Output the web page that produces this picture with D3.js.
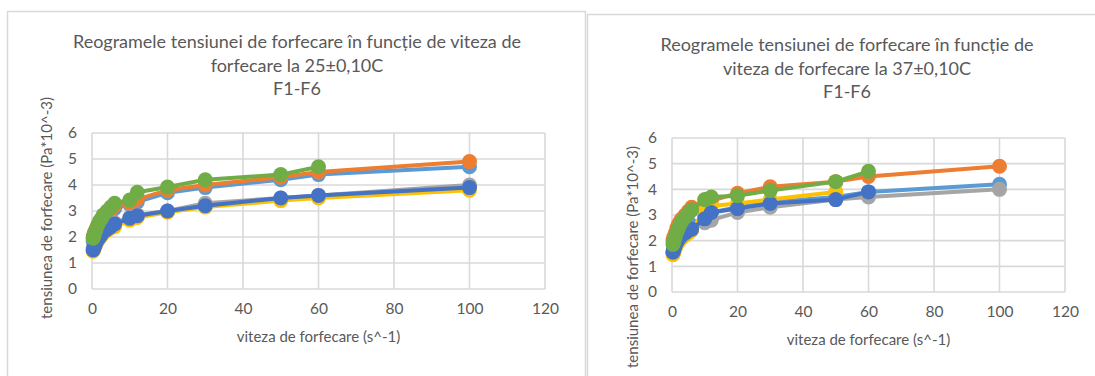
<!DOCTYPE html>
<html>
<head>
<meta charset="utf-8">
<script src="https://cdn.jsdelivr.net/npm/d3@7"></script>
<style>
  html, body { margin: 0; padding: 0; background: #fff; }
  svg { display: block; font-family: Lato, "Liberation Sans", sans-serif; }
</style>
</head>
<body>
<div id="chart"></div>
<script>
// shear rates (s^-1) shared by every series
const shearRate = [0.3, 0.5, 0.6, 1, 1.5, 2, 2.5, 3, 4, 5, 6, 10, 12, 20, 30, 50, 60, 100];
const seriesNames = ['F1', 'F2', 'F3', 'F4', 'F5', 'F6'];
const seriesColors = ['#5B9BD5', '#ED7D31', '#A5A5A5', '#FFC000', '#4472C4', '#70AD47'];
const xTicks = [0, 20, 40, 60, 80, 100, 120];
const yTicks = [0, 1, 2, 3, 4, 5, 6];

// 25 °C
const f1At25 = [1.85, 1.95, 2.0, 2.15, 2.3, 2.45, 2.55, 2.65, 2.8, 2.95, 3.1, 3.25, 3.35, 3.7, 3.9, 4.2, 4.4, 4.7];
const f2At25 = [2.0, 2.1, 2.15, 2.3, 2.45, 2.6, 2.7, 2.8, 2.95, 3.05, 3.2, 3.3, 3.45, 3.8, 4.0, 4.3, 4.5, 4.9];
const f3At25 = [1.55, 1.62, 1.67, 1.8, 1.95, 2.05, 2.15, 2.25, 2.35, 2.45, 2.55, 2.75, 2.85, 3.0, 3.3, 3.5, 3.6, 4.0];
const f4At25 = [1.45, 1.52, 1.57, 1.7, 1.85, 1.95, 2.05, 2.15, 2.25, 2.35, 2.4, 2.65, 2.75, 2.95, 3.15, 3.4, 3.5, 3.8];
const f5At25 = [1.5, 1.58, 1.62, 1.75, 1.9, 2.0, 2.1, 2.2, 2.3, 2.4, 2.5, 2.72, 2.82, 3.0, 3.2, 3.5, 3.6, 3.9];
const f6At25 = [1.95, 2.05, 2.1, 2.25, 2.45, 2.6, 2.7, 2.85, 3.0, 3.15, 3.3, 3.42, 3.72, 3.92, 4.2, 4.4, 4.7, null];

// 37 °C
const f1At37 = [1.6, 1.68, 1.72, 1.85, 2.0, 2.1, 2.2, 2.3, 2.4, 2.5, 2.6, 2.9, 3.1, 3.3, 3.5, 3.7, 3.9, 4.2];
const f2At37 = [2.0, 2.1, 2.15, 2.3, 2.5, 2.65, 2.75, 2.85, 3.0, 3.15, 3.3, 3.5, 3.55, 3.85, 4.1, 4.3, 4.5, 4.9];
const f3At37 = [1.55, 1.62, 1.67, 1.8, 1.95, 2.05, 2.15, 2.2, 2.3, 2.4, 2.45, 2.7, 2.8, 3.1, 3.3, 3.6, 3.7, 4.0];
const f4At37 = [1.45, 1.52, 1.57, 1.7, 1.85, 1.95, 2.05, 2.1, 2.2, 2.3, 2.4, 3.2, 3.35, 3.45, 3.6, 3.9, null, null];
const f5At37 = [1.55, 1.62, 1.67, 1.8, 1.95, 2.05, 2.15, 2.2, 2.3, 2.4, 2.45, 2.85, 3.1, 3.25, 3.45, 3.6, 3.9, null];
const f6At37 = [1.85, 1.95, 2.0, 2.15, 2.35, 2.5, 2.65, 2.75, 2.9, 3.05, 3.2, 3.6, 3.7, 3.75, 3.95, 4.3, 4.7, null];

const xTitle = 'viteza de forfecare (s^-1)';
const yTitle = 'tensiunea de forfecare  (Pa*10^-3)';

const W = 1095, H = 376;
const textColor = '#595959';
const gridColor = '#d9d9d9';

const svg = d3.select('#chart').append('svg')
    .attr('width', W)
    .attr('height', H);

svg.append('rect').attr('width', W).attr('height', H).attr('fill', '#fff');

function drawChart(cfg) {
    const g = svg.append('g');

    // chart frame
    g.append('rect')
        .attr('x', cfg.frame[0]).attr('y', cfg.frame[1])
        .attr('width', cfg.frame[2]).attr('height', cfg.frame[3])
        .attr('fill', '#fff')
        .attr('stroke', gridColor)
        .attr('stroke-width', 1.5);

    const x = d3.scaleLinear().domain([0, 120]).range(cfg.xRange);
    const y = d3.scaleLinear().domain([0, 6]).range(cfg.yRange);

    // gridlines
    g.append('g').selectAll('line')
        .data(yTicks)
        .join('line')
        .attr('x1', x(0)).attr('x2', x(120))
        .attr('y1', d => y(d)).attr('y2', d => y(d))
        .attr('stroke', gridColor).attr('stroke-width', 1.6);

    g.append('g').selectAll('line')
        .data(xTicks)
        .join('line')
        .attr('x1', d => x(d)).attr('x2', d => x(d))
        .attr('y1', y(0)).attr('y2', y(6))
        .attr('stroke', gridColor).attr('stroke-width', 1.6);

    // axes (labels only, lines come from the grid)
    const xAxis = g.append('g')
        .attr('transform', `translate(0,${y(0)})`)
        .call(d3.axisBottom(x).tickValues(xTicks).tickFormat(d3.format('d')).tickSize(0).tickPadding(14));
    const yAxis = g.append('g')
        .attr('transform', `translate(${x(0)},0)`)
        .call(d3.axisLeft(y).tickValues(yTicks).tickFormat(d3.format('d')).tickSize(0).tickPadding(15));
    [xAxis, yAxis].forEach(a => {
        a.select('.domain').remove();
        a.selectAll('text')
            .attr('fill', textColor)
            .style('font-size', '15.5px')
            .style('font-family', 'Lato, sans-serif');
    });

    // series
    const line = d3.line()
        .defined(d => d.v != null)
        .x(d => x(d.x))
        .y(d => y(d.v));

    cfg.series.forEach((vals, i) => {
        const pts = shearRate.map((s, j) => ({ x: s, v: vals[j] }));
        const sg = g.append('g');
        sg.append('path')
            .datum(pts)
            .attr('d', line)
            .attr('fill', 'none')
            .attr('stroke', seriesColors[i])
            .attr('stroke-width', 4)
            .attr('stroke-linejoin', 'round');
        sg.selectAll('circle')
            .data(pts.filter(d => d.v != null))
            .join('circle')
            .attr('cx', d => x(d.x))
            .attr('cy', d => y(d.v))
            .attr('r', 7.5)
            .attr('fill', seriesColors[i]);
    });

    // titles
    const title = g.append('text')
        .attr('text-anchor', 'middle')
        .attr('fill', textColor)
        .style('font-size', '18px');
    cfg.title.forEach((t, i) => {
        title.append('tspan')
            .attr('x', cfg.titleX)
            .attr('y', cfg.titleY + i * 23.5)
            .text(t);
    });

    g.append('text')
        .attr('x', (cfg.xRange[0] + cfg.xRange[1]) / 2)
        .attr('y', cfg.xTitleY)
        .attr('text-anchor', 'middle')
        .attr('fill', textColor)
        .style('font-size', '15px')
        .text(xTitle);

    g.append('text')
        .attr('transform', `translate(${cfg.yTitlePos[0]},${cfg.yTitlePos[1]}) rotate(-90)`)
        .attr('text-anchor', 'middle')
        .attr('fill', textColor)
        .style('font-size', '15px')
        .text(yTitle);
}

drawChart({
    frame: [7.5, 11.5, 578, 380],
    xRange: [92, 545],
    yRange: [289, 133],
    title: ['Reogramele tensiunei de forfecare în funcție de viteza de',
            'forfecare la 25±0,10C', 'F1-F6'],
    titleX: 297,
    titleY: 48,
    xTitleY: 342,
    yTitlePos: [52, 208],
    series: [f1At25, f2At25, f3At25, f4At25, f5At25, f6At25]
});

drawChart({
    frame: [587.5, 14.5, 520, 380],
    xRange: [672, 1065],
    yRange: [292, 138],
    title: ['Reogramele tensiunei de forfecare în funcție de',
            'viteza de forfecare la 37±0,10C', 'F1-F6'],
    titleX: 847,
    titleY: 51,
    xTitleY: 345,
    yTitlePos: [638, 257],
    series: [f1At37, f2At37, f3At37, f4At37, f5At37, f6At37]
});
</script>
</body>
</html>
